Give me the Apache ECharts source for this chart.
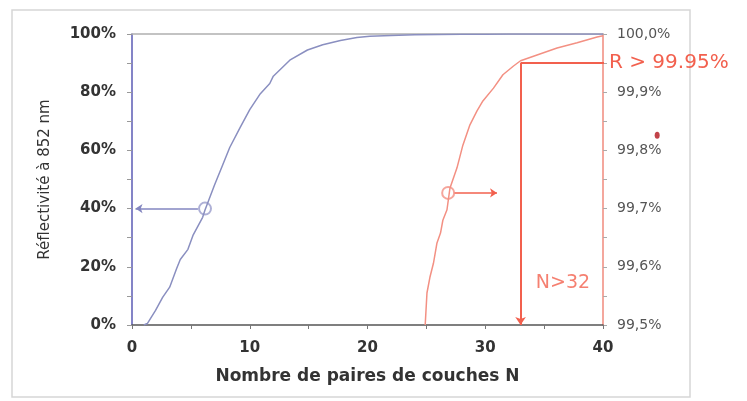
<!DOCTYPE html>
<html>
<head>
<meta charset="utf-8">
<script src="https://cdn.jsdelivr.net/npm/echarts@6/dist/echarts.min.js"></script>
<style>
  html, body { margin: 0; padding: 0; background: #ffffff; }
  #chart { width: 747px; height: 401px; }
</style>
</head>
<body>
<div id="chart"></div>
<script>
// Reflectivity at 852 nm versus number of layer pairs N
// Full-scale curve (left axis, 0–100 %)
const blueN = [1, 1.3, 2, 2.6, 3.2, 3.8, 4.1, 4.75, 5.2, 5.6, 6, 6.2, 7, 7.7, 8.3, 9.2, 10, 10.9, 11.7, 12, 13.4, 14.9, 16.2, 17.7, 19.1, 20.2, 22, 24, 26, 28, 30, 32, 35, 40];
const blueR = [0, 0.5, 5, 9.5, 13, 19.5, 22.5, 26, 31, 34, 37, 39.5, 48, 55, 61, 68, 74, 79.5, 83, 85.5, 91, 94.5, 96.3, 97.8, 98.8, 99.2, 99.5, 99.7, 99.8, 99.9, 99.95, 100, 100, 100];

// Zoomed curve (right axis, 99.5–100 %)
const redN = [24.9, 25.05, 25.3, 25.6, 25.9, 26.2, 26.4, 26.75, 27.0, 27.6, 28.1, 28.7, 29.3, 29.8, 30.7, 31.5, 32.4, 33.0, 34.4, 36.1, 37.8, 39.5, 40];
const redR = [99.5, 99.555, 99.582, 99.606, 99.641, 99.658, 99.68, 99.698, 99.735, 99.77, 99.809, 99.844, 99.868, 99.885, 99.907, 99.93, 99.945, 99.954, 99.964, 99.976, 99.985, 99.995, 99.997];

// Threshold annotation
const thresholdR = 99.95;
const thresholdN = 33;
const thresholdLineEndN = 41;
const thresholdText = 'R > 99.95%';
const nText = 'N>32';
const nTextPos = [36.6, 99.572];

// Axis markers (circle + arrow pointing to the relevant axis)
const blueMarker = { at: [6.2, 40], arrowFrom: 5.6, arrowTo: 0.3 };
const redMarker = { at: [26.85, 99.727], arrowFrom: 27.4, arrowTo: 31.0 };
const strayDot = [44.6, 99.826];

// Axis ranges and tick steps
const xRange = [0, 40], xStep = 10;
const leftRange = [0, 100], leftStep = 20;
const rightRange = [99.5, 100], rightStep = 0.1;

const zip = (a, b) => a.map((v, i) => [v, b[i]]);

const RED = '#f2604e';
const RED_CURVE = '#f39083';
const BLUE_CURVE = '#8a8fc0';
const FONT = 'DejaVu Sans';

const chart = echarts.init(document.getElementById('chart'), null, { renderer: 'canvas' });

chart.setOption({
  animation: false,
  backgroundColor: '#ffffff',
  graphic: [{
    type: 'rect',
    z: -10,
    shape: { x: 12, y: 10, width: 678, height: 387 },
    style: { fill: 'none', stroke: '#d6d6d6', lineWidth: 1.5 }
  }],
  grid: { left: 132, right: 144, top: 34, bottom: 76 },
  xAxis: [{
    type: 'value', min: xRange[0], max: xRange[1], interval: xStep, position: 'bottom',
    axisLine: { show: true, onZero: false, lineStyle: { color: '#555', width: 1.5 } },
    axisTick: { show: true, length: 4, lineStyle: { color: '#777' } },
    minorTick: { show: true, splitNumber: 2, length: 4, lineStyle: { color: '#777' } },
    splitLine: { show: false },
    axisLabel: { fontFamily: FONT, fontWeight: 'bold', fontSize: 15, color: '#333', margin: 16 },
    name: 'Nombre de paires de couches N', nameLocation: 'middle', nameGap: 43,
    nameTextStyle: { fontFamily: FONT, fontWeight: 'bold', fontSize: 17, color: '#333' }
  }, {
    type: 'value', min: xRange[0], max: xRange[1], position: 'top',
    axisLine: { show: true, onZero: false, lineStyle: { color: '#b0b0b0', width: 1.5 } },
    axisTick: { show: false }, axisLabel: { show: false }, splitLine: { show: false }
  }],
  yAxis: [{
    type: 'value', min: leftRange[0], max: leftRange[1], interval: leftStep, position: 'left',
    axisLine: { show: true, onZero: false, lineStyle: { color: '#5b5bb5', width: 1.5 } },
    axisTick: { show: true, length: 5, lineStyle: { color: '#999' } },
    minorTick: { show: true, splitNumber: 2, length: 5, lineStyle: { color: '#999' } },
    splitLine: { show: false },
    axisLabel: { formatter: '{value}%', fontFamily: FONT, fontWeight: 'bold', fontSize: 15, color: '#333', margin: 16 },
    name: 'Réflectivité à 852 nm', nameLocation: 'middle', nameGap: 79, nameRotate: 90,
    nameTextStyle: { fontFamily: FONT, fontSize: 15, color: '#333' }
  }, {
    type: 'value', min: rightRange[0], max: rightRange[1], interval: rightStep, position: 'right',
    axisLine: { show: true, onZero: false, lineStyle: { color: '#f08a7c', width: 1.5 } },
    axisTick: { show: true, length: 4, lineStyle: { color: '#aaa' } },
    minorTick: { show: true, splitNumber: 2, length: 4, lineStyle: { color: '#aaa' } },
    splitLine: { show: false },
    axisLabel: {
      formatter: v => v.toFixed(1).replace('.', ',') + '%',
      fontFamily: FONT, fontSize: 14, color: '#555', margin: 14
    }
  }],
  series: [{
    name: 'R (0–100 %)', type: 'line', xAxisIndex: 0, yAxisIndex: 0,
    data: zip(blueN, blueR), showSymbol: false,
    lineStyle: { color: BLUE_CURVE, width: 1.5 }
  }, {
    name: 'R (99,5–100 %)', type: 'line', xAxisIndex: 0, yAxisIndex: 1,
    data: zip(redN, redR), showSymbol: false,
    lineStyle: { color: RED_CURVE, width: 1.5 }
  }, {
    name: 'seuil', type: 'line', xAxisIndex: 0, yAxisIndex: 1, clip: false,
    data: [[thresholdN, thresholdR], [thresholdLineEndN, thresholdR]], showSymbol: false,
    lineStyle: { color: RED, width: 2 },
    endLabel: { show: true, formatter: thresholdText, fontFamily: FONT, fontSize: 20, color: RED, distance: 5 },
    markLine: {
      silent: true, symbol: ['none', 'arrow'], symbolSize: 8,
      lineStyle: { color: RED, width: 2, type: 'solid' }, label: { show: false },
      data: [[{ coord: [thresholdN, thresholdR] }, { coord: [thresholdN, rightRange[0]] }]]
    }
  }, {
    name: 'repère gauche', type: 'scatter', xAxisIndex: 0, yAxisIndex: 0,
    data: [blueMarker.at], symbol: 'emptyCircle', symbolSize: 12,
    itemStyle: { color: '#9a9ccc', borderWidth: 1.5 },
    markLine: {
      silent: true, symbol: ['none', 'arrow'], symbolSize: 7,
      lineStyle: { color: '#8386c0', width: 1.5, type: 'solid' }, label: { show: false },
      data: [[{ coord: [blueMarker.arrowFrom, blueMarker.at[1]] }, { coord: [blueMarker.arrowTo, blueMarker.at[1]] }]]
    }
  }, {
    name: 'repère droit', type: 'scatter', xAxisIndex: 0, yAxisIndex: 1,
    data: [redMarker.at], symbol: 'emptyCircle', symbolSize: 12,
    itemStyle: { color: RED_CURVE, borderWidth: 1.5 },
    markLine: {
      silent: true, symbol: ['none', 'arrow'], symbolSize: 7,
      lineStyle: { color: RED, width: 1.5, type: 'solid' }, label: { show: false },
      data: [[{ coord: [redMarker.arrowFrom, redMarker.at[1]] }, { coord: [redMarker.arrowTo, redMarker.at[1]] }]]
    }
  }, {
    name: 'N', type: 'scatter', xAxisIndex: 0, yAxisIndex: 1,
    data: [nTextPos], symbolSize: 0,
    label: { show: true, position: 'inside', formatter: nText, fontFamily: FONT, fontSize: 19, color: RED }
  }, {
    name: 'point', type: 'scatter', xAxisIndex: 0, yAxisIndex: 1, clip: false,
    data: [strayDot], symbol: 'circle', symbolSize: [5, 7],
    itemStyle: { color: '#b3141c' }
  }]
});
</script>
</body>
</html>
